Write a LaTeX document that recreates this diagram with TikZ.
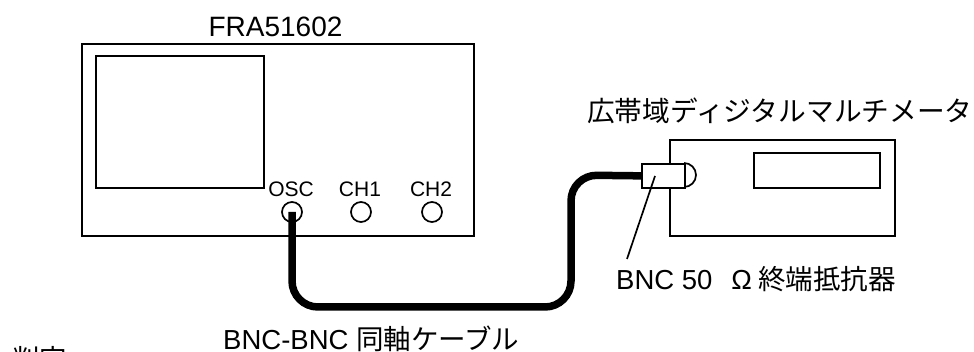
\documentclass[tikz,border=0pt]{standalone}
\usepackage{fontspec}
\setmainfont{Liberation Sans}
\newfontfamily\cjk{Noto Sans CJK JP}
\tikzset{
  x=1pt,y=-1pt,
  thinline/.style={draw=black,line width=1.7pt},
  cable/.style={draw=black,line width=7.5pt},
  lbl/.style={inner sep=0pt,font=\fontsize{27.5}{30}\selectfont},
  small/.style={inner sep=0pt,font=\fontsize{21}{23}\selectfont},
  port/.style={circle,draw=black,line width=1.7pt,minimum size=20pt,inner sep=0pt,fill=white},
  panel/.style={draw=black,line width=1.7pt,inner sep=0pt,anchor=north west},
}
\begin{document}
\begin{tikzpicture}
\useasboundingbox (0,0) rectangle (974,352);
\node[panel,minimum width=392pt,minimum height=192pt] (fra) at (81,43) {};
\node[panel,minimum width=168pt,minimum height=132pt] (screen) at (95,55) {};
\node[panel,minimum width=225pt,minimum height=96pt] (dmm) at (669,139) {};
\node[panel,minimum width=126pt,minimum height=35pt] (disp) at (753,152) {};
\node[port] (osc) at (292,212) {};
\node[port] (ch1) at (361,212) {};
\node[port] (ch2) at (432,212) {};
\draw[thinline,fill=white] (684,163) arc[start angle=90,end angle=-90,radius=12pt];
\node[panel,fill=white,minimum width=43pt,minimum height=24pt] (term) at (641,163) {};
\draw[cable,rounded corners=26pt] (osc.center) -- (292,307) -- (571,307) -- (571,175) -- (term.west);
\coordinate (lead) at (627,259);
\draw[thinline] (655,176) -- (lead);
\node[inner sep=0pt,font=\fontsize{28}{30}\selectfont,anchor=base] (t1) at (275.5,37) {FRA51602};
\node[small,anchor=base] (t2) at (291,197) {OSC};
\node[small,anchor=base] (t3) at (360,197) {CH1};
\node[small,anchor=base] (t4) at (431,197) {CH2};
\node[inner sep=0pt,font=\fontsize{27.7}{30}\selectfont,anchor=base west] (t5) at (587,122) {{\cjk 広帯域ディジタルマルチメータ}};
\node[lbl,anchor=base west] (t6) at (616,289.5) {BNC 50\hspace{19pt}Ω\hspace{6pt}{\cjk 終端抵抗器}};
\node[lbl,anchor=base west] (t7) at (223,349) {BNC-BNC {\cjk 同軸ケーブル}};
\node[lbl,anchor=base west] (t8) at (12,369) {{\cjk 判定}};
\end{tikzpicture}
\end{document}
